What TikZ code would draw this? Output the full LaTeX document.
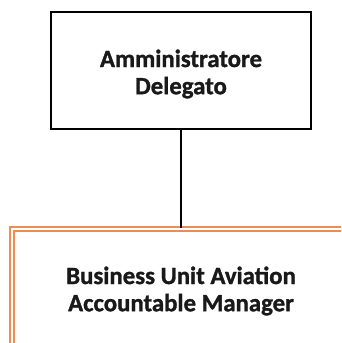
\documentclass[tikz,border=0pt]{standalone}
\usepackage{fontspec}
\setmainfont{Carlito}[BoldFont={Carlito Bold}]
\newfontfamily\boldcal{Carlito Bold}[FakeBold=1.2]
\definecolor{boxorange}{RGB}{240,140,80}
\begin{document}
\begin{tikzpicture}[x=1pt,y=1pt,
  lbl/.style={font=\boldcal\fontsize{24.8}{27.2}\selectfont, align=center, text=black!90},
  topbox/.style={draw=black, line width=2.8pt, minimum width=260pt, minimum height=117pt, inner sep=0pt},
  botbox/.style={draw=boxorange, line width=1.4pt, double=white, double distance=2.4pt, minimum width=338pt, minimum height=126pt, inner sep=0pt},
  link/.style={draw=black, line width=2.6pt}]
\useasboundingbox (0,0) rectangle (341,-343);
\node[topbox] (ad) at (181,-70.5) {};
\node[lbl] (adt) at (181,-74) {Amministratore\\Delegato};
\begin{scope}
\clip (0,0) rectangle (341,-343);
\node[botbox] (bu) at (181,-292) {};
\end{scope}
\node[lbl] (but) at (181,-291) {Business Unit Aviation\\Accountable Manager};
\draw[link] (ad.south) -- (bu.north);
\end{tikzpicture}
\end{document}
